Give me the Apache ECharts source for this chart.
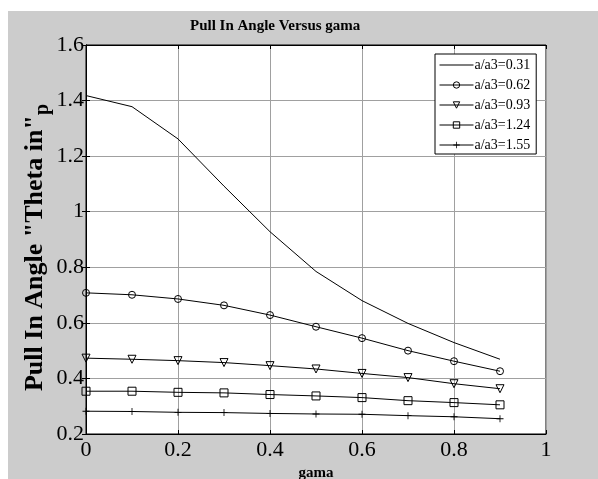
<!DOCTYPE html>
<html>
<head>
<meta charset="utf-8">
<script src="https://cdn.jsdelivr.net/npm/echarts@6/dist/echarts.min.js"></script>
<style>
  html, body { margin: 0; padding: 0; background: #fff; }
  #chart { position: absolute; left: 8px; top: 11px; width: 590px; height: 468px; background: #cccccc; }
</style>
</head>
<body>
<div id="chart"></div>
<script>
// gama values on the x axis
const gama = [0, 0.1, 0.2, 0.3, 0.4, 0.5, 0.6, 0.7, 0.8, 0.9]

// pull in angle for each a/a3 ratio
const ratio031 = [1.418, 1.378, 1.262, 1.092, 0.928, 0.785, 0.680, 0.598, 0.529, 0.469]
const ratio062 = [0.708, 0.701, 0.686, 0.663, 0.628, 0.586, 0.545, 0.500, 0.462, 0.426]
const ratio093 = [0.473, 0.469, 0.464, 0.457, 0.446, 0.434, 0.418, 0.403, 0.381, 0.363]
const ratio124 = [0.354, 0.354, 0.350, 0.348, 0.342, 0.337, 0.331, 0.320, 0.313, 0.305]
const ratio155 = [0.282, 0.281, 0.278, 0.277, 0.274, 0.272, 0.271, 0.266, 0.262, 0.255]

const seriesNames = ['a/a3=0.31', 'a/a3=0.62', 'a/a3=0.93', 'a/a3=1.24', 'a/a3=1.55']

const font = '"Liberation Serif", "Times New Roman", serif'
const plus = 'path://M-0.12,-1H0.12V-0.12H1V0.12H0.12V1H-0.12V0.12H-1V-0.12H-0.12Z'
// plain line icon for the series without markers (corner dots fix the box)
const lineIcon = 'path://M0,0H0.01V0.01H0Z M0,3.5H34V4.5H0Z M33.99,7.99H34V8H33.99Z'

const pairs = ys => gama.map((g, i) => [g, ys[i]])

const makeSeries = (name, ys, symbol, opts = {}) => ({
    name,
    type: 'line',
    data: pairs(ys),
    symbol,
    symbolSize: 7,
    showSymbol: symbol !== 'none',
    lineStyle: { color: '#000', width: 1 },
    itemStyle: { color: 'rgba(0,0,0,0)', borderColor: '#000', borderWidth: 1 },
    emphasis: { disabled: true },
    animation: false,
    ...opts
})

const chart = echarts.init(document.getElementById('chart'))

chart.setOption({
    textStyle: { fontFamily: font },
    title: {
        text: 'Pull In Angle Versus gama',
        left: 177,
        top: 3,
        textStyle: { fontFamily: font, fontSize: 15, fontWeight: 'bold', color: '#000' }
    },
    legend: {
        orient: 'vertical',
        left: 427,
        top: 43,
        data: [
            { name: seriesNames[0], icon: lineIcon, itemStyle: { color: '#000', borderWidth: 0 } },
            seriesNames[1], seriesNames[2], seriesNames[3], seriesNames[4]
        ],
        backgroundColor: '#fff',
        borderColor: '#000',
        borderWidth: 1,
        borderRadius: 0,
        padding: [4, 6, 2, 4],
        itemWidth: 34,
        itemHeight: 8,
        itemGap: 6,
        itemStyle: { borderWidth: 1 },
        lineStyle: { width: 1, color: '#000' },
        textStyle: { fontFamily: font, fontSize: 14, color: '#000', padding: [0, 0, 0, -4] }
    },
    grid: {
        left: 78, top: 34, width: 460, height: 389,
        outerBoundsMode: 'none',
        show: true, borderColor: '#000', borderWidth: 1, backgroundColor: '#fff'
    },
    xAxis: [{
        type: 'value',
        min: 0,
        max: 1,
        interval: 0.2,
        name: 'gama',
        nameLocation: 'middle',
        nameGap: 31,
        nameTextStyle: { fontFamily: font, fontSize: 15, fontWeight: 'bold', color: '#000' },
        axisLine: { lineStyle: { color: '#000' } },
        axisTick: { inside: true, length: 4, lineStyle: { color: '#000' } },
        axisLabel: { fontFamily: font, fontSize: 22, color: '#000', margin: 5 },
        splitLine: { lineStyle: { color: '#a0a0a0', width: 1 } }
    }, {
        type: 'value',
        position: 'top',
        min: 0,
        max: 1,
        interval: 0.2,
        axisLine: { lineStyle: { color: '#000' } },
        axisTick: { inside: true, length: 4, lineStyle: { color: '#000' } },
        axisLabel: { show: false },
        splitLine: { show: false }
    }],
    yAxis: [{
        type: 'value',
        min: 0.2,
        max: 1.6,
        interval: 0.2,
        name: '{a|Pull In Angle "Theta in"}{b|p}',
        nameLocation: 'middle',
        nameGap: 33,
        nameMoveOverlap: false,
        nameTextStyle: {
            rich: {
                a: { fontFamily: font, fontSize: 26, fontWeight: 'bold', color: '#000' },
                b: { fontFamily: font, fontSize: 20, fontWeight: 'bold', color: '#000', padding: [16, 16, 0, 0], verticalAlign: 'bottom' }
            }
        },
        axisLine: { lineStyle: { color: '#000' } },
        axisTick: { inside: true, length: 4, lineStyle: { color: '#000' } },
        axisLabel: { fontFamily: font, fontSize: 22, color: '#000', margin: 2, formatter: v => String(+v.toFixed(1)) },
        splitLine: { lineStyle: { color: '#a0a0a0', width: 1 } }
    }, {
        type: 'value',
        position: 'right',
        min: 0.2,
        max: 1.6,
        interval: 0.2,
        axisLine: { lineStyle: { color: '#000' } },
        axisTick: { inside: true, length: 4, lineStyle: { color: '#000' } },
        axisLabel: { show: false },
        splitLine: { show: false }
    }],
    series: [
        makeSeries(seriesNames[0], ratio031, 'none'),
        makeSeries(seriesNames[1], ratio062, 'circle'),
        makeSeries(seriesNames[2], ratio093, 'triangle', { symbolRotate: 180, symbolSize: 8 }),
        makeSeries(seriesNames[3], ratio124, 'rect', { symbolSize: 8 }),
        makeSeries(seriesNames[4], ratio155, plus, { itemStyle: { color: '#000' } })
    ]
})

window.addEventListener('resize', () => chart.resize())
</script>
</body>
</html>
